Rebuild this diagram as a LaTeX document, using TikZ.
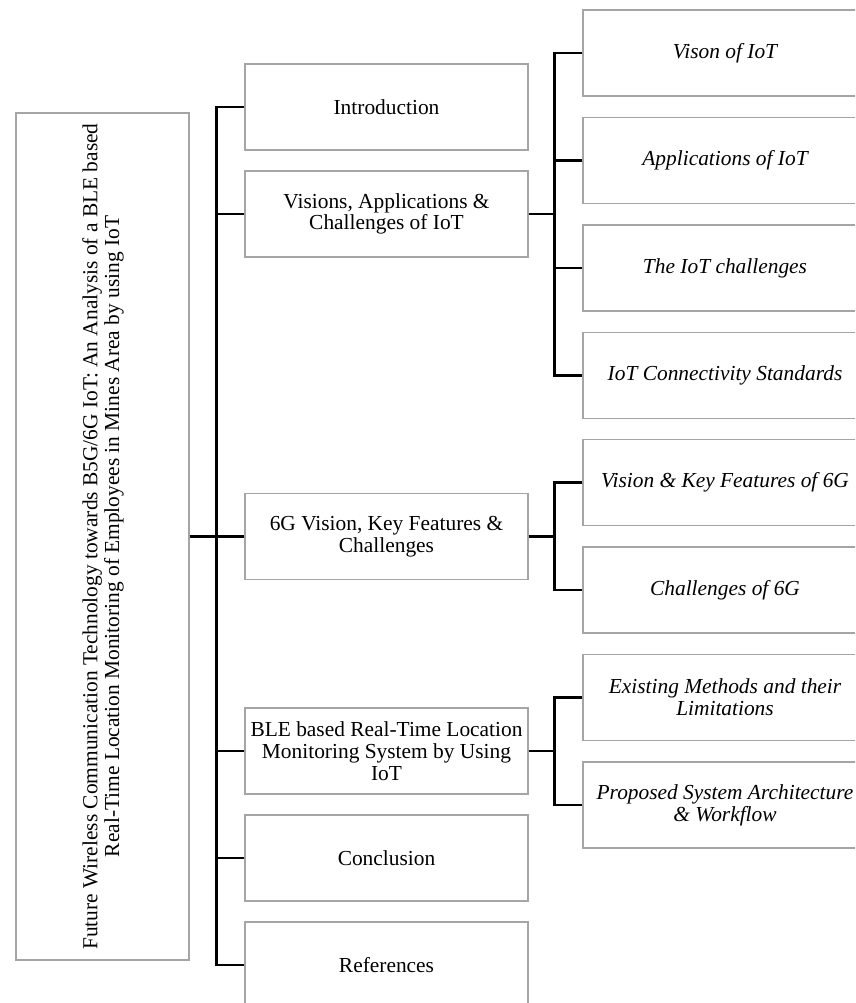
\documentclass[tikz,border=0pt]{standalone}
\usepackage{fontspec}
\setmainfont{Liberation Serif}
\definecolor{boxgray}{RGB}{165,165,165}
\begin{document}
\begin{tikzpicture}[x=1pt,y=-1pt,
  txt/.style={font=\fontsize{21.4}{21.7}\selectfont},
  box/.style={draw=boxgray, line width=1.1pt, minimum height=86pt, inner sep=0pt, align=center, txt},
  lone/.style={box, minimum width=283pt},
  ltwo/.style={box, minimum width=284pt, font=\fontsize{21.4}{21.7}\selectfont\itshape},
  conn/.style={line width=2.5pt, black}]
\useasboundingbox (0,0) rectangle (855,1003);
\clip (0,0) rectangle (855,1003);

% root box with the title set sideways
\node[draw=boxgray, line width=1.1pt, minimum width=173pt, minimum height=847pt, inner sep=0pt] (root) at (102.5,536.5) {};
\node[rotate=90, align=center, txt, inner sep=0pt] (title) at (103,536.5)
  {Future Wireless Communication Technology towards B5G/6G IoT: An Analysis of a BLE based\\
   Real-Time Location Monitoring of Employees in Mines Area by using IoT};

% first level
\node[lone] (intro) at (386.5,107) {Introduction};
\node[lone] (vis)   at (386.5,214) {Visions, Applications \&\\Challenges of IoT};
\node[lone] (six)   at (386.5,536.5) {6G Vision, Key Features \&\\Challenges};
\node[lone] (ble)   at (386.5,751) {BLE based Real-Time Location\\Monitoring System by Using\\IoT};
\node[lone] (conc)  at (386.5,858) {Conclusion};
\node[lone] (refs)  at (386.5,965) {References};

% second level
\node[ltwo] (va) at (725,53)    {Vison of IoT};
\node[ltwo] (vb) at (725,160.5) {Applications of IoT};
\node[ltwo] (vc) at (725,268)   {The IoT challenges};
\node[ltwo] (vd) at (725,375.5) {IoT Connectivity Standards};
\node[ltwo] (sa) at (725,482.5) {Vision \& Key Features of 6G};
\node[ltwo] (sb) at (725,590)   {Challenges of 6G};
\node[ltwo] (ba) at (725,697.5) {Existing Methods and their\\Limitations};
\node[ltwo] (bb) at (725,805)   {Proposed System Architecture\\\& Workflow};

% main trunk
\draw[conn] (root.east) -- (six.west);
\draw[conn] (intro.west) -- ++(-28,0) |- (refs.west);
\foreach \n in {vis,ble,conc} \draw[conn] (\n.west) -- ++(-28,0);

% IoT branch
\draw[conn] (vis.east) -- ++(27,0);
\draw[conn] (va.west) -- ++(-28,0) |- (vd.west);
\foreach \n in {vb,vc} \draw[conn] (\n.west) -- ++(-28,0);

% 6G branch
\draw[conn] (six.east) -- ++(27,0);
\draw[conn] (sa.west) -- ++(-28,0) |- (sb.west);

% BLE branch
\draw[conn] (ble.east) -- ++(27,0);
\draw[conn] (ba.west) -- ++(-28,0) |- (bb.west);
\end{tikzpicture}
\end{document}
